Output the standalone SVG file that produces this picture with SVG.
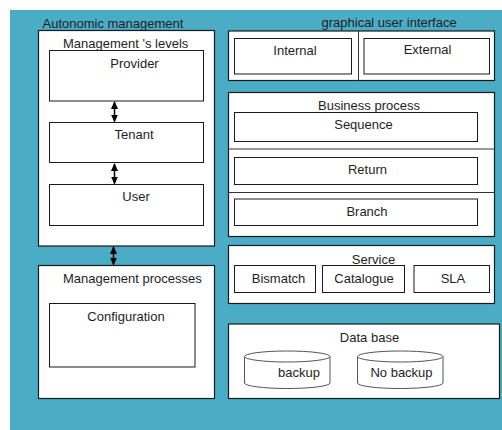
<svg xmlns="http://www.w3.org/2000/svg" width="502" height="430" viewBox="0 0 502 430">
<style>
.bg{fill:#4BACC6}
.box{fill:#fff;stroke:#1a1a1a;stroke-width:1.2}
.in{fill:#fff;stroke:#1a1a1a;stroke-width:1}
.div{stroke:#333;stroke-width:1}
.cyl{fill:#fff;stroke:#555;stroke-width:1}
text{font-family:"Liberation Sans",Arial,sans-serif;font-size:13px;fill:#1e1e1e}
.c{text-anchor:middle}
.con{stroke:#000;stroke-width:1.5;fill:none;marker-start:url(#ah);marker-end:url(#ah)}
</style>
<defs>
<marker id="ah" viewBox="0 0 8 8" refX="7" refY="4" markerWidth="8" markerHeight="8" markerUnits="userSpaceOnUse" orient="auto-start-reverse">
<path d="M0,0.5 L8,4 L0,7.5 Z" fill="#000"/>
</marker>
</defs>
<rect class="bg" x="10" y="10" width="492" height="420"/>

<g id="autonomic">
<text x="42.5" y="27.5">Autonomic management</text>
<rect class="box" x="38.5" y="30.5" width="176" height="215.5"/>
<text x="63" y="48">Management 's levels</text>
</g>
<g id="provider">
<rect class="in" x="49.5" y="50.5" width="154" height="50.5"/>
<text class="c" x="134.5" y="68">Provider</text>
</g>
<g id="tenant">
<rect class="in" x="49.5" y="122.5" width="154" height="40"/>
<text class="c" x="134" y="139">Tenant</text>
</g>
<g id="user">
<rect class="in" x="49.5" y="184.5" width="154" height="41"/>
<text class="c" x="136" y="201">User</text>
</g>
<g id="mgmt-processes">
<rect class="box" x="38.5" y="265.5" width="176" height="133"/>
<text x="63" y="282.5">Management processes</text>
</g>
<g id="configuration">
<rect class="in" x="49.5" y="303.5" width="145.5" height="63.5"/>
<text class="c" x="126" y="320.5">Configuration</text>
</g>

<g id="gui">
<text x="321.5" y="26.5">graphical user interface</text>
<rect class="box" x="228.5" y="31" width="266" height="49.5"/>
<line class="div" x1="358.5" y1="31" x2="358.5" y2="80.5"/>
</g>
<g id="internal">
<rect class="in" x="234.5" y="38.5" width="117" height="35.5"/>
<text class="c" x="295" y="55">Internal</text>
</g>
<g id="external">
<rect class="in" x="364" y="38.5" width="125.5" height="35.5"/>
<text class="c" x="427.5" y="53.5">External</text>
</g>

<g id="business-process">
<rect class="box" x="228.5" y="92.5" width="266" height="144"/>
<text class="c" x="369" y="110">Business process</text>
<line class="div" x1="228.5" y1="149" x2="494.5" y2="149"/>
<line class="div" x1="228.5" y1="192.5" x2="494.5" y2="192.5"/>
</g>
<g id="sequence">
<rect class="in" x="234.5" y="112.5" width="243" height="29"/>
<text class="c" x="363.5" y="128.5">Sequence</text>
</g>
<g id="return">
<rect class="in" x="234.5" y="157.5" width="243" height="27"/>
<text class="c" x="367.5" y="174">Return</text>
</g>
<g id="branch">
<rect class="in" x="234.5" y="199" width="243" height="26.5"/>
<text class="c" x="367" y="215.5">Branch</text>
</g>

<g id="service">
<rect class="box" x="228.5" y="245.5" width="266" height="58"/>
<text class="c" x="373.5" y="263.5">Service</text>
</g>
<g id="bismatch">
<rect class="in" x="234.5" y="265.5" width="81" height="27"/>
<text class="c" x="278.5" y="282.5">Bismatch</text>
</g>
<g id="catalogue">
<rect class="in" x="322.5" y="265.5" width="82" height="27"/>
<text class="c" x="364" y="282.5">Catalogue</text>
</g>
<g id="sla">
<rect class="in" x="414" y="265.5" width="75.5" height="27"/>
<text class="c" x="453" y="282.5">SLA</text>
</g>

<g id="database">
<rect class="box" x="228.5" y="324" width="271" height="74.5"/>
<text class="c" x="369.5" y="342">Data base</text>
</g>
<g id="backup">
<path class="cyl" d="M244.5,356.5 A42.75,5.5 0 0 1 330,356.5 L330,383 A42.75,5.5 0 0 1 244.5,383 Z"/>
<path class="cyl" d="M244.5,356.5 A42.75,5.5 0 0 0 330,356.5" fill="none"/>
<text class="c" x="299" y="377">backup</text>
</g>
<g id="no-backup">
<path class="cyl" d="M357.5,356.5 A42.75,5.5 0 0 1 443,356.5 L443,383 A42.75,5.5 0 0 1 357.5,383 Z"/>
<path class="cyl" d="M357.5,356.5 A42.75,5.5 0 0 0 443,356.5" fill="none"/>
<text class="c" x="401.5" y="377">No backup</text>
</g>

<g id="connectors">
<line class="con" x1="114.5" y1="102" x2="114.5" y2="121.5"/>
<line class="con" x1="114.5" y1="164" x2="114.5" y2="183.5"/>
<line class="con" x1="113.5" y1="247" x2="113.5" y2="264.5"/>
</g>
</svg>
